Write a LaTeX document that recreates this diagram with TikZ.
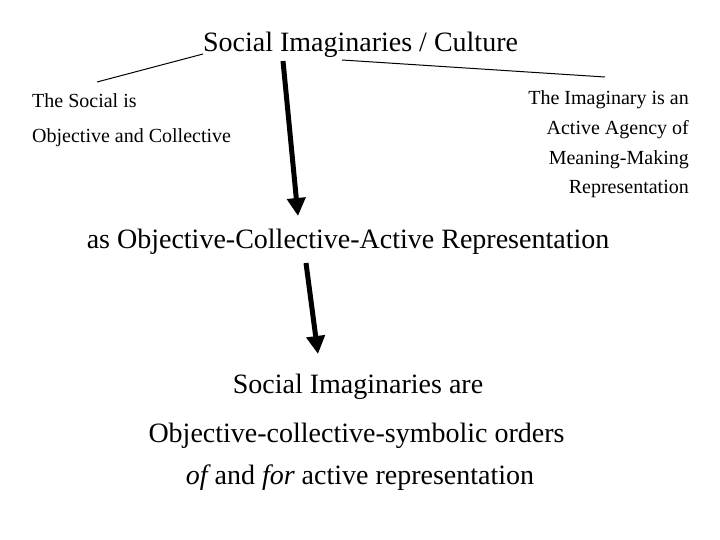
\documentclass[tikz,border=0pt]{standalone}
\usepackage{fontspec}
\setmainfont{Liberation Serif}
\usetikzlibrary{arrows.meta}
\begin{document}
\begin{tikzpicture}[x=1pt,y=-1pt,
  thin line/.style={line width=1pt},
  big arrow/.style={line width=5pt,-{Triangle[length=18pt,width=18pt]}},
  small/.style={font=\fontsize{20}{24}\selectfont,inner sep=0pt},
  big/.style={font=\fontsize{28}{32}\selectfont,inner sep=0pt}]
\useasboundingbox (0,0) rectangle (720,540);
\node[big,anchor=base] (title) at (360.5,52) {Social Imaginaries / Culture};
\node[small,anchor=base west] (l1) at (32,108) {The Social is};
\node[small,anchor=base west] (l2) at (32,143) {Objective and Collective};
\node[small,anchor=base east] (r1) at (689,105) {The Imaginary is an};
\node[small,anchor=base east] (r2) at (689,135) {Active Agency of};
\node[small,anchor=base east] (r3) at (689,165) {Meaning-Making};
\node[small,anchor=base east] (r4) at (689,194) {Representation};
\node[big,anchor=base] (mid) at (348,248) {as Objective-Collective-Active Representation};
\node[big,anchor=base] (b1) at (358,393) {Social Imaginaries are};
\node[big,anchor=base] (b2) at (356.5,442) {Objective-collective-symbolic orders};
\node[big,anchor=base] (b3) at (360,484) {{\itshape of} and {\itshape for} active representation};
\coordinate (lA) at (97,82);
\coordinate (lB) at (203,54);
\coordinate (rA) at (342,60);
\coordinate (rB) at (605,77);
\draw[thin line] (lA) -- (lB);
\draw[thin line] (rA) -- (rB);
\coordinate (a1s) at (283,61);
\coordinate (a1e) at (298,216);
\coordinate (a2s) at (306,263);
\coordinate (a2e) at (318,354);
\draw[big arrow] (a1s) -- (a1e);
\draw[big arrow] (a2s) -- (a2e);
\end{tikzpicture}
\end{document}
